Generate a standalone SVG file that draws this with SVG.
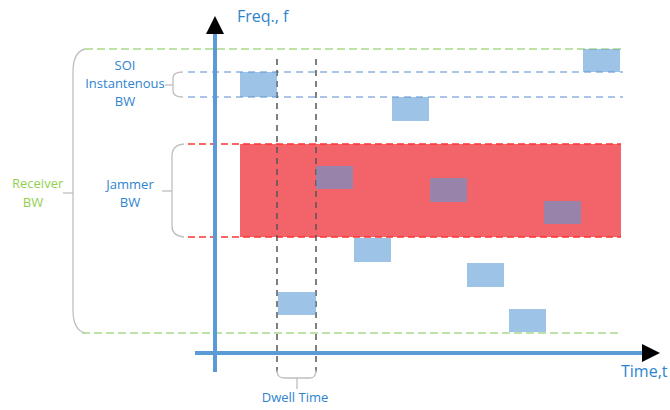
<svg xmlns="http://www.w3.org/2000/svg" width="670" height="410" viewBox="0 0 670 410">
<style>
text{font-family:"Open Sans","Liberation Sans",sans-serif;}
.lbl{fill:#2e83cf;font-size:13px;text-anchor:middle;}
.rcv{fill:#92d050;font-size:13px;}
.ax{fill:#2e83cf;font-size:16px;}
.brace{fill:none;stroke:#bfbfbf;stroke-width:1.3;}
.sq{fill:#5b9bd5;fill-opacity:0.6;}
.gdash{stroke:#a9d98a;stroke-width:1.5;stroke-dasharray:8,4;fill:none;}
.bdash{stroke:#8fb2e0;stroke-width:1.5;stroke-dasharray:7,5;fill:none;}
.rdash{stroke:#ff3333;stroke-width:1.5;stroke-dasharray:7,4;fill:none;}
.kdash{stroke:#555;stroke-width:1.5;stroke-dasharray:6,5;fill:none;}
.axis{stroke:#5b9bd5;stroke-width:4;fill:none;}
</style>
<g id="jammer-band">
<rect x="240" y="144" width="381" height="93" fill="#f3636a"/>
</g>
<g id="connectors">
<line class="gdash" x1="85" y1="49" x2="623" y2="49"/>
<line class="gdash" x1="82" y1="333" x2="618" y2="333"/>
<line class="bdash" x1="188" y1="72" x2="623" y2="72"/>
<line class="bdash" x1="188" y1="97" x2="623" y2="97" stroke="#a9c0df"/>
<line class="rdash" x1="188" y1="144" x2="621" y2="144"/>
<line class="rdash" x1="188" y1="237" x2="621" y2="237"/>
<line class="kdash" x1="277" y1="59" x2="277" y2="372"/>
<line class="kdash" x1="316" y1="59" x2="316" y2="372"/>
<path class="axis" d="M215 33 V372"/>
<path class="axis" d="M195 353 H645"/>
<polygon points="215,16 206,34 224,34" fill="#000"/>
<polygon points="660,353 642,344 642,362" fill="#000"/>
<path class="brace" d="M85 49 Q73 52 73 72 V310 Q73 330 85 333"/>
<line class="brace" x1="63" y1="193" x2="73" y2="193"/>
<path class="brace" d="M183 72 Q173 72 173 78 V91 Q173 97 183 97"/>
<line class="brace" x1="165" y1="85" x2="173" y2="85"/>
<path class="brace" d="M184 144 Q172 145 172 156 V226 Q172 236 184 237"/>
<line class="brace" x1="162" y1="191" x2="172" y2="191"/>
<path class="brace" d="M277 370 Q277 378 284 378 H310 Q316 378 316 370"/>
<line class="brace" x1="297" y1="378" x2="297" y2="389"/>
</g>
<g id="signals">
<rect class="sq" x="240" y="72" width="37" height="25"/>
<rect class="sq" x="392" y="97" width="37" height="24"/>
<rect class="sq" x="583" y="49" width="37" height="23"/>
<rect class="sq" x="316" y="166" width="37" height="23"/>
<rect class="sq" x="430" y="178" width="37" height="24"/>
<rect class="sq" x="544" y="201" width="37" height="23"/>
<rect class="sq" x="354" y="238" width="37" height="24"/>
<rect class="sq" x="467" y="263" width="37" height="24"/>
<rect class="sq" x="509" y="309" width="37" height="23"/>
<rect class="sq" x="278" y="292" width="38" height="23"/>
</g>
<g id="label-freq"><text class="ax" x="237" y="22">Freq., f</text></g>
<g id="label-time"><text class="ax" x="621" y="377">Time,t</text></g>
<g id="label-soi">
<text class="lbl" x="125" y="70">SOI</text>
<text class="lbl" x="125" y="88">Instantenous</text>
<text class="lbl" x="125" y="106">BW</text>
</g>
<g id="label-jammer">
<text class="lbl" x="130" y="189">Jammer</text>
<text class="lbl" x="130" y="207">BW</text>
</g>
<g id="label-receiver">
<text class="rcv" x="12" y="188">Receiver</text>
<text class="rcv" x="33" y="207" text-anchor="middle">BW</text>
</g>
<g id="label-dwell"><text class="lbl" x="295" y="402">Dwell Time</text></g>
</svg>
